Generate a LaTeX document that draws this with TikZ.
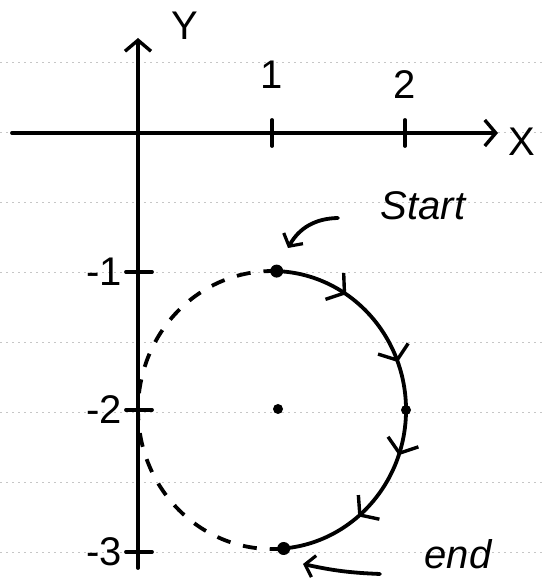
\documentclass[tikz,border=0pt]{standalone}
\usepackage{fontspec}
\setmainfont{Liberation Sans}
\usetikzlibrary{arrows.meta,decorations.markings}
\begin{document}
\begin{tikzpicture}[x=1pt,y=1pt,
  ink/.style={line width=3.8pt,line cap=round},
  barb/.style={-{Straight Barb[length=11pt,width=26pt,line width=3.4pt]}},
  paperline/.style={gray!45,line width=0.7pt,dash pattern=on 2pt off 4pt},
  lbl/.style={font=\fontsize{40}{42}\selectfont,inner sep=0pt},
  word/.style={font=\fontsize{40}{42}\selectfont\itshape,inner sep=0pt},
  dot/.style={circle,fill=black,inner sep=0pt,minimum size=13pt},
  smalldot/.style={circle,fill=black,inner sep=0pt,minimum size=10pt},
  flow/.style={postaction={decorate},decoration={markings,
     mark=at position 0.18 with {\arrow{Straight Barb[length=12pt,width=32pt,line width=3.4pt]}},
     mark=at position 0.39 with {\arrow{Straight Barb[length=12pt,width=32pt,line width=3.4pt]}},
     mark=at position 0.62 with {\arrow{Straight Barb[length=12pt,width=32pt,line width=3.4pt]}},
     mark=at position 0.80 with {\arrow{Straight Barb[length=12pt,width=32pt,line width=3.4pt]}}}}]
\useasboundingbox (0,0) rectangle (542,582);
% notebook lines
\foreach \yy in {520,450,380,310,240,170,100,30}
  \draw[paperline] (0,\yy) -- (542,\yy);
% axes
\coordinate (xl) at (12,449);
\coordinate (xr) at (498,449);
\coordinate (yb) at (138,14);
\coordinate (yt) at (138,544);
\draw[ink,barb] (xl) -- (xr);
\draw[ink,barb] (yb) -- (yt);
\node[lbl] (xlab) at (522,440) {X};
\node[lbl] (ylab) at (185,556) {Y};
% x ticks
\foreach \xx/\t/\ly in {272/1/507,405/2/497}{
  \draw[ink] (\xx,436) -- (\xx,462);
  \node[lbl] (xt\t) at (\xx,\ly) {\t};
}
% y ticks
\foreach \yy/\t in {310/1,172/2,30/3}{
  \draw[ink] (126,\yy) -- (152,\yy);
  \node[lbl,anchor=east] (yt\t) at (122,\yy) {-\t};
}
% circle
\coordinate (C) at (272,172);
\coordinate (top) at (276.7,310.9);
\coordinate (bot) at (283.7,33.5);
\coordinate (right) at (406,172);
\draw[ink,flow] (top) arc[start angle=88,end angle=-85,x radius=134,y radius=139];
\draw[ink,line cap=butt,dash pattern=on 14pt off 13pt] (bot) arc[start angle=-85,end angle=-272,x radius=134,y radius=139];
\node[dot] (sdot) at (top) {};
\node[dot] (edot) at (bot) {};
\node[smalldot] (rdot) at (right) {};
\node[smalldot] (cdot) at (278,173) {};
% labels
\node[word] (start) at (423,376) {Start};
\node[word] (endl) at (458,28) {end};
\coordinate (sa) at (338,364);
\coordinate (sb) at (288,334);
\draw[ink,-{Straight Barb[length=9pt,width=22pt,line width=3.2pt]}] (sa) to[bend right=30] (sb);
\coordinate (ea) at (380,8);
\coordinate (eb) at (303,18);
\draw[ink,-{Straight Barb[length=9pt,width=22pt,line width=3.2pt]}] (ea) to[bend left=5] (eb);
\end{tikzpicture}
\end{document}
